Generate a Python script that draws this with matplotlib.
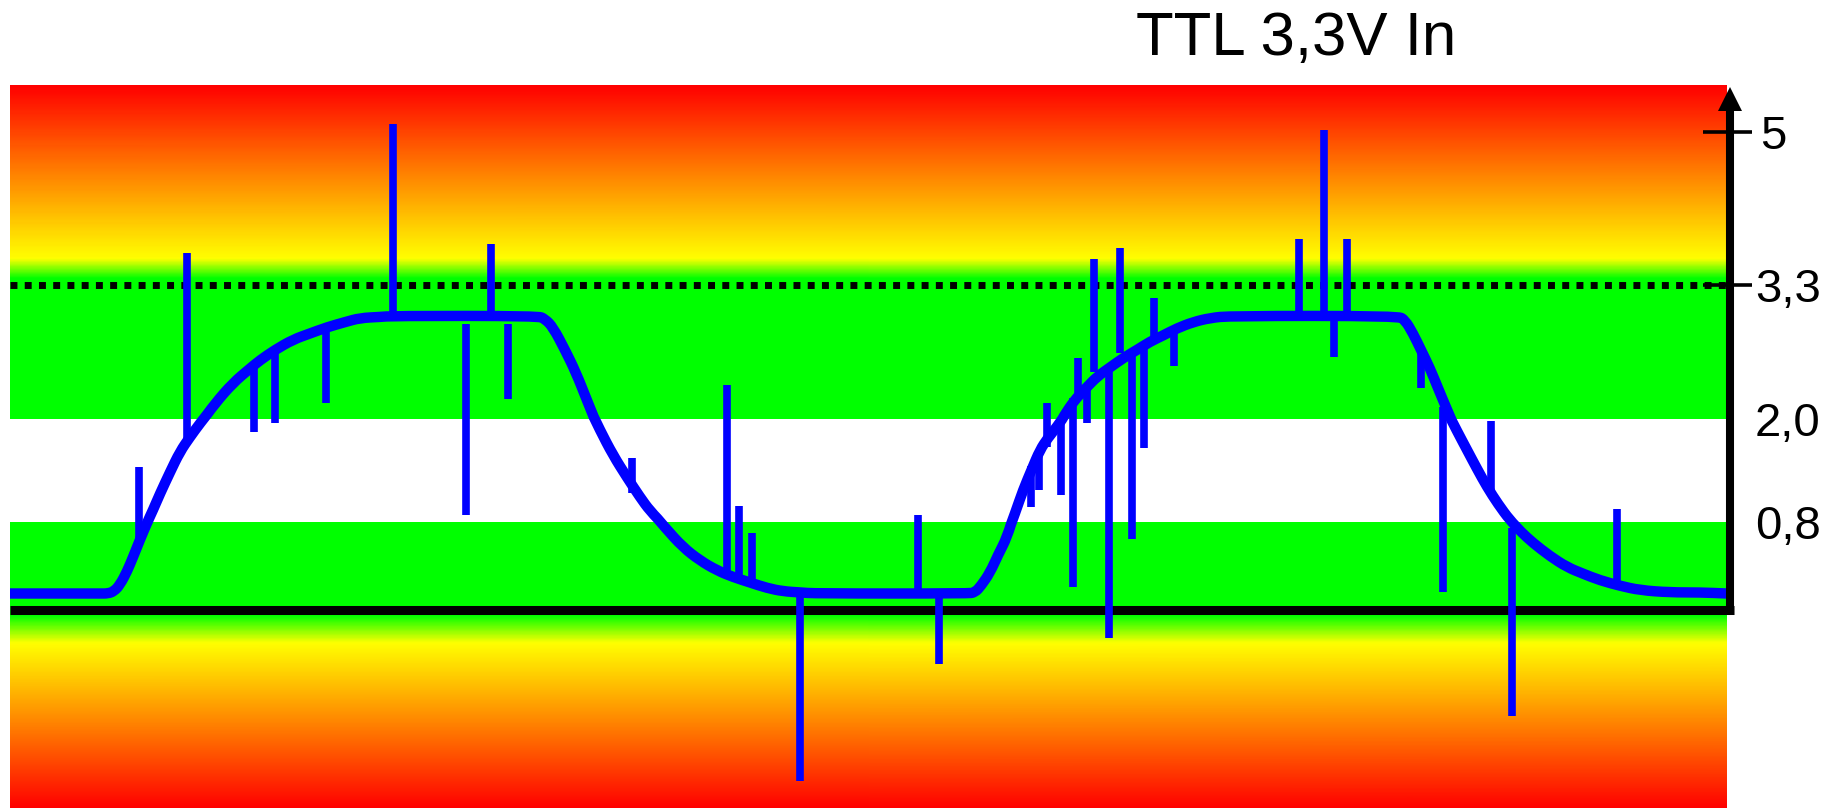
import numpy as np
import matplotlib
matplotlib.use("Agg")
import matplotlib.pyplot as plt
import matplotlib.transforms as mtransforms
from matplotlib.colors import LinearSegmentedColormap
from matplotlib.path import Path
from matplotlib.patches import PathPatch

plt.rcParams['font.family'] = ['Liberation Sans', 'DejaVu Sans']

# ---------------- data ----------------
title = "TTL 3,3V In"

# smooth input signal (time samples, volts)
curve_t = [0, 90, 98, 104, 110, 117, 123, 130, 137, 143, 150, 160, 170, 180, 190,
           205, 223, 240, 250, 265, 283, 300, 317, 335, 350, 370, 383, 528,
           535, 543, 555, 566, 577, 590, 603, 617, 630, 640, 655, 673, 690, 707,
           723, 740, 757, 773, 790, 805, 958,
           965, 971, 980, 988, 997, 1005, 1013, 1022, 1030, 1038, 1047, 1057,
           1067, 1077, 1087, 1100, 1113, 1127, 1140, 1153, 1167, 1183, 1200,
           1220, 1388,
           1395, 1403, 1411, 1420, 1428, 1437, 1447, 1457, 1467, 1477, 1488,
           1500, 1511, 1523, 1540, 1557, 1573, 1590, 1610, 1630, 1660, 1690, 1717]
curve_v = [0.15, 0.15, 0.15, 0.17, 0.23, 0.35, 0.48, 0.64, 0.79, 0.94, 1.13, 1.38,
           1.62, 1.79, 1.95, 2.15, 2.35, 2.49, 2.57, 2.67, 2.77, 2.83, 2.89, 2.94,
           2.98, 2.99, 3.0, 3.0,
           2.97, 2.89, 2.67, 2.45, 2.18, 1.87, 1.58, 1.32, 1.09, 0.93, 0.75, 0.57,
           0.45, 0.36, 0.30, 0.25, 0.20, 0.17, 0.16, 0.15, 0.15,
           0.16, 0.22, 0.34, 0.50, 0.66, 0.90, 1.17, 1.42, 1.64, 1.78, 1.91,
           2.08, 2.21, 2.31, 2.41, 2.50, 2.59, 2.67, 2.75, 2.81, 2.88, 2.94,
           2.98, 3.0, 3.0,
           2.96, 2.83, 2.67, 2.49, 2.30, 2.09, 1.86, 1.64, 1.42, 1.21, 1.01,
           0.82, 0.71, 0.61, 0.49, 0.39, 0.33, 0.27, 0.22, 0.18, 0.16, 0.16, 0.15]

# noise spikes: time, low end, high end (volts)
spike_t = [129, 177, 244, 265, 316, 383, 456, 481, 498, 622, 717, 729, 742, 790,
           908, 929, 1021, 1029, 1037, 1051, 1063, 1068, 1077, 1084, 1099, 1110,
           1122, 1134, 1144, 1164, 1289, 1314, 1324, 1337, 1411, 1433, 1481,
           1502, 1607]
spike_lo = [0.63, 1.76, 1.85, 1.95, 2.16, 3.0, 0.88, 3.0, 2.19, 1.14, 0.34, 0.30,
            0.27, -1.55, 0.15, -0.49, 0.97, 1.17, 1.67, 1.11, 0.21, 2.25, 1.95,
            2.46, -0.25, 2.64, 0.65, 1.66, 2.80, 2.51, 3.0, 3.0, 2.60, 3.0, 2.30,
            0.16, 1.14, -0.96, 0.25]
spike_hi = [1.44, 3.66, 2.55, 2.67, 2.86, 5.09, 2.92, 3.76, 2.92, 1.55, 2.33, 0.99,
            0.70, 0.15, 0.88, 0.15, 1.45, 1.58, 2.16, 2.02, 2.20, 2.59, 2.33,
            3.59, 2.50, 3.71, 2.64, 2.70, 3.17, 2.86, 3.81, 5.02, 3.0, 3.81, 2.67,
            2.12, 1.98, 0.75, 0.95]

level_values = [5.0, 3.3, 2.0, 0.8]
level_labels = ["5", "3,3", "2,0", "0,8"]
tick_values = [5.0, 3.3]
vcc = 3.3
v_ih_min = 2.0
v_il_max = 0.8

# ---------------- schematic (piecewise) vertical scale ----------------
SCALE_V = np.array([-1000.0, -1.8, 0.0, 0.8, 2.0, 3.3, 5.0, 5.52, 1000.0])
SCALE_R = np.array([808 + (1000 - 1.8) * 110, 808, 610, 522, 419, 285, 132, 85,
                    85 - (1000 - 5.52) * 90])


def fwd(v):
    return np.interp(np.asarray(v, float), SCALE_V, -SCALE_R)


def inv(u):
    return np.interp(np.asarray(u, float), -SCALE_R, SCALE_V)


W, H = 1829, 808
fig = plt.figure(figsize=(W / 100, H / 100), dpi=100, facecolor="white")
ax = fig.add_axes([10 / W, 0, 1717 / W, (H - 85) / H])
ax.set_yscale("function", functions=(fwd, inv))
ax.set_xlim(0, 1717)
ax.set_ylim(-1.8, 5.52)
ax.axis("off")

# background gradient
vmin, vmax = -1.8, 5.52
n = lambda v: (v - vmin) / (vmax - vmin)
cmap = LinearSegmentedColormap.from_list(
    "ttl", [(0.0, "#ff0000"), (n(-0.30), "#ffff00"), (n(-0.045), "#00ff00"),
            (n(3.378), "#00ff00"), (n(3.60), "#ffff00"), (1.0, "#ff0000")], N=1024)
yy = np.linspace(vmin, vmax, 600)
XX, YY = np.meshgrid([0, 1717], yy)
ax.pcolormesh(XX, YY, YY, cmap=cmap, vmin=vmin, vmax=vmax, shading="gouraud", zorder=0)

# undefined region between thresholds
ax.axhspan(v_il_max, v_ih_min, color="white", lw=0, zorder=1)

# Vcc dotted line
ax.axhline(vcc, color="black", lw=5, linestyle=(0, (1, 1.05)), zorder=2)

# baseline (0 V)
ax.axhline(0, xmin=0, xmax=(1734 - 10) / 1717, color="black", lw=6.5,
           solid_capstyle="butt", clip_on=False, zorder=3)

# noise spikes
ax.vlines(spike_t, spike_lo, spike_hi, color="#0000ff", lw=5.5, capstyle="butt", zorder=4)

# signal drawn as a smooth (quadratic Bezier) path through the read points
pts = np.column_stack([curve_t, curve_v]).astype(float)
verts = [pts[0], (pts[0] + pts[1]) / 2]
codes = [Path.MOVETO, Path.LINETO]
for i in range(1, len(pts) - 1):
    verts += [pts[i], (pts[i] + pts[i + 1]) / 2]
    codes += [Path.CURVE3, Path.CURVE3]
verts.append(pts[-1])
codes.append(Path.LINETO)
ax.add_patch(PathPatch(Path(verts, codes), facecolor="none", edgecolor="#0000ff",
                       lw=7.5, capstyle="butt", joinstyle="round", zorder=5))

# vertical axis with arrow head
ax.vlines([1720], -0.045, 5.3, color="black", lw=5.8, capstyle="butt",
          clip_on=False, zorder=6)
ax.plot([1720], [5.37], marker="^", ms=17, color="black", mew=0,
        clip_on=False, zorder=6)
ax.hlines(tick_values, 1693, 1742, color="black", lw=2.6, clip_on=False, zorder=6)

# level labels
blend = mtransforms.blended_transform_factory(ax.transAxes, ax.transData)
for v, lab in zip(level_values, level_labels):
    dx = 23.8 if lab == "5" else 20.2
    ax.annotate(lab, xy=(1, v), xycoords=blend, xytext=(dx, -12.2),
                textcoords="offset points", fontsize=34, ha="left",
                va="baseline", annotation_clip=False)

fig.text(1136 / W, 1 - 55 / H, title, fontsize=44.5, ha="left", va="baseline")

fig.savefig("out.png", dpi=100, facecolor="white")
